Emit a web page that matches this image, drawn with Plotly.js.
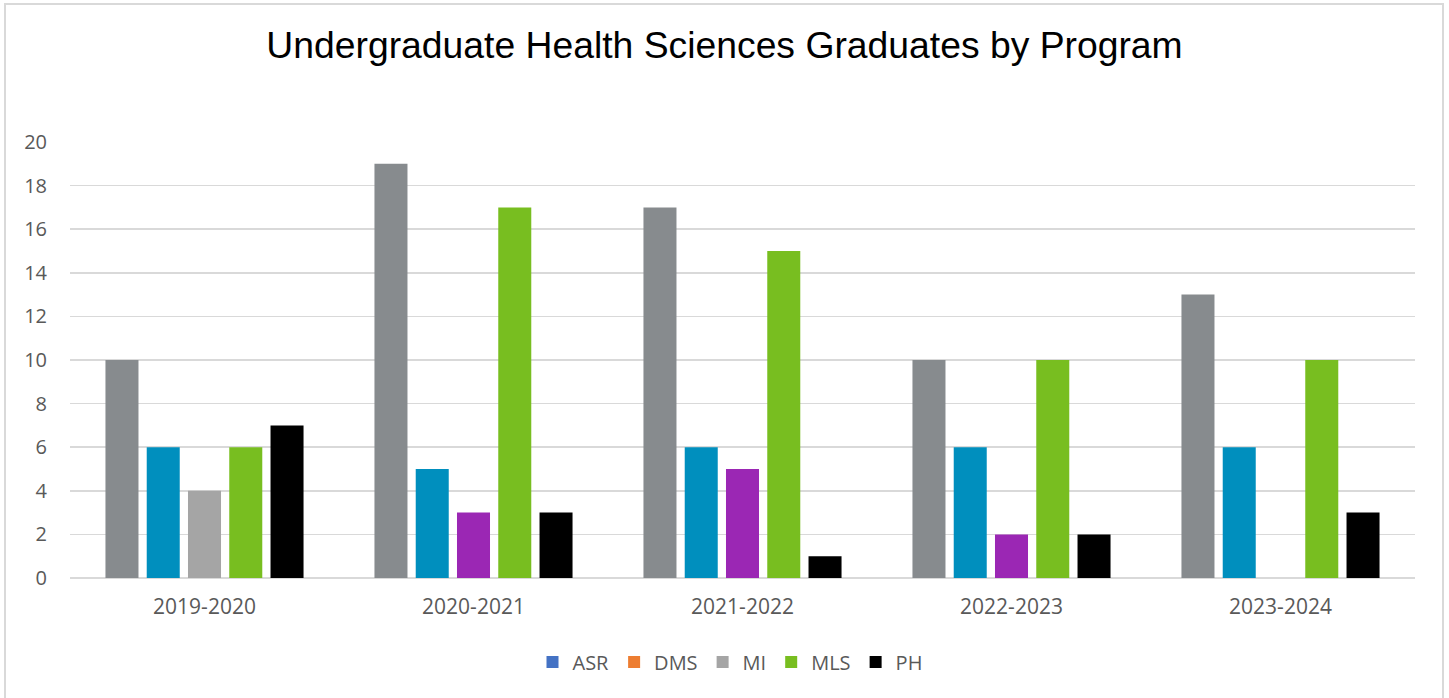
<!DOCTYPE html>
<html>
<head>
<meta charset="utf-8">
<script src="https://cdn.plot.ly/plotly-3.0.1.min.js"></script>
<style>
html,body{margin:0;padding:0;background:#fff;overflow:hidden;}
#wrap{position:relative;width:1449px;height:698px;}
#chart{position:absolute;left:0;top:0;width:1449px;height:698px;}
#frame{position:absolute;left:4px;top:3px;width:1440px;height:720px;border:2px solid #d9d9d9;box-sizing:border-box;pointer-events:none;}
</style>
</head>
<body>
<div id="wrap"><div id="chart"></div><div id="frame"></div></div>
<script>
const years = ['2019-2020','2020-2021','2021-2022','2022-2023','2023-2024'];
const programs = ['ASR','DMS','MI','MLS','PH'];
const ASR = [10, 19, 17, 10, 13];
const DMS = [6, 5, 6, 6, 6];
const MI  = [4, 3, 5, 2, null];
const MLS = [6, 17, 15, 10, 10];
const PH  = [7, 3, 1, 2, 3];

const barColors = {
  ASR: ['#878b8e','#878b8e','#878b8e','#878b8e','#878b8e'],
  DMS: ['#008fbe','#008fbe','#008fbe','#008fbe','#008fbe'],
  MI:  ['#a5a5a5','#9b27b4','#9b27b4','#9b27b4','#9b27b4'],
  MLS: ['#78be20','#78be20','#78be20','#78be20','#78be20'],
  PH:  ['#000000','#000000','#000000','#000000','#000000']
};
const legendColors = {ASR:'#4472c4', DMS:'#ed7d31', MI:'#a5a5a5', MLS:'#78be20', PH:'#000000'};
const seriesData = {ASR, DMS, MI, MLS, PH};

const traces = [];
programs.forEach(p => {
  traces.push({
    type:'bar', x: years, y: seriesData[p], name: p, showlegend:false,
    marker:{color: barColors[p], line:{width:0}}, hoverinfo:'x+y+name'
  });
});
programs.forEach(p => {
  traces.push({
    type:'bar', x:[years[0]], y:[0], name:p, xaxis:'x2', yaxis:'y2',
    marker:{color: legendColors[p], line:{width:0}}, hoverinfo:'skip'
  });
});

const tickFont = {family:'"Open Sans", "Noto Sans", sans-serif', size:20, color:'#595959'};
const catFont = {family:'"Open Sans", "Noto Sans", sans-serif', size:21, color:'#595959'};
const layout = {
  width:1449, height:698,
  paper_bgcolor:'#ffffff', plot_bgcolor:'#ffffff',
  margin:{l:70, r:34, t:142, b:120},
  title:{text:'Undergraduate Health Sciences Graduates by Program',
         font:{family:'"Liberation Sans", Arial, sans-serif', size:37.3, color:'#000000'},
         x:0.5, xref:'container', xanchor:'center', y:1-45/698, yref:'container', yanchor:'middle'},
  barmode:'group', bargap:0.233, bargroupgap:0.2,
  xaxis:{type:'category', showgrid:false, zeroline:false, showline:false, ticks:'',
         tickfont:catFont, ticklabelstandoff:14, fixedrange:true},
  yaxis:{range:[0,20], dtick:2, showgrid:true, gridcolor:'#d9d9d9', gridwidth:1.5,
         zeroline:true, zerolinecolor:'#d9d9d9', zerolinewidth:1.5, showline:false, ticks:'',
         tickfont:tickFont, ticklabelstandoff:22, fixedrange:true},
  xaxis2:{overlaying:'x', visible:false, type:'category'},
  yaxis2:{overlaying:'y', visible:false, range:[0,20]},
  showlegend:true,
  legend:{orientation:'h', xref:'container', yref:'container', x:730/1449, xanchor:'center',
          y:1-662/698, yanchor:'middle', font:tickFont, traceorder:'normal', itemwidth:30},
  font:{family:'"Open Sans", sans-serif'}
};
Plotly.newPlot('chart', traces, layout, {displayModeBar:false, staticPlot:true});
</script>
</body>
</html>
